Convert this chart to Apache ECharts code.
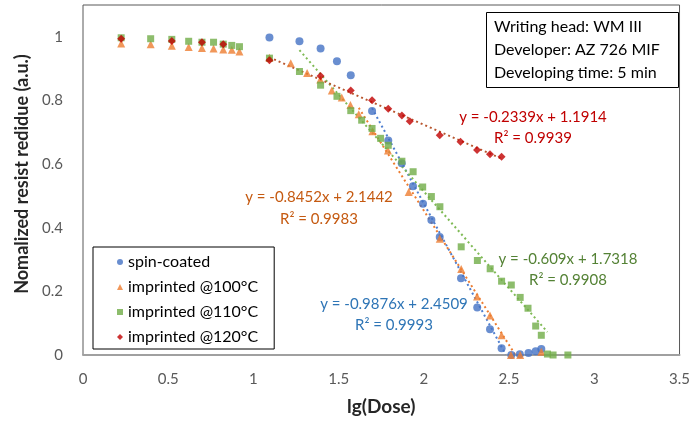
<!DOCTYPE html>
<html>
<head>
<meta charset="utf-8">
<script src="https://cdn.jsdelivr.net/npm/echarts@6/dist/echarts.min.js"></script>
<style>html,body{margin:0;padding:0;background:#fff;}#c{width:693px;height:423px;}</style>
</head>
<body>
<div id="c"></div>
<script>
// ---- data ----
const seriesNames = ['spin-coated', 'imprinted @100°C', 'imprinted @110°C', 'imprinted @120°C'];
const spinCoated = [[1.094,0.998],[1.27,0.986],[1.394,0.963],[1.49,0.923],[1.571,0.879],[1.696,0.767],[1.791,0.674],[1.870,0.603],[1.936,0.530],[1.995,0.475],[2.044,0.424],[2.093,0.371],[2.218,0.241],[2.313,0.149],[2.388,0.081],[2.456,0.021],[2.513,0.0],[2.563,0.002],[2.614,0.006],[2.656,0.012],[2.689,0.019]];
const imprinted100 = [[0.224,0.979],[0.397,0.977],[0.521,0.972],[0.620,0.968],[0.698,0.965],[0.766,0.963],[0.823,0.960],[0.873,0.959],[0.918,0.954],[1.094,0.934],[1.219,0.917],[1.315,0.886],[1.392,0.866],[1.460,0.831],[1.518,0.809],[1.569,0.786],[1.618,0.757],[1.698,0.703],[1.789,0.643],[1.911,0.512],[2.093,0.365],[2.219,0.270],[2.312,0.184],[2.388,0.124],[2.456,0.062],[2.511,0.0],[2.565,0.0],[2.689,0.01]];
const imprinted110 = [[0.224,0.997],[0.397,0.994],[0.521,0.992],[0.620,0.986],[0.698,0.983],[0.766,0.983],[0.823,0.977],[0.873,0.973],[0.918,0.969],[1.094,0.933],[1.270,0.891],[1.394,0.848],[1.490,0.813],[1.571,0.768],[1.635,0.738],[1.696,0.712],[1.746,0.681],[1.791,0.659],[1.871,0.609],[1.937,0.576],[1.993,0.528],[2.044,0.498],[2.094,0.466],[2.219,0.340],[2.314,0.297],[2.389,0.271],[2.456,0.232],[2.513,0.220],[2.565,0.181],[2.611,0.147],[2.656,0.091],[2.689,0.062],[2.725,0.003],[2.758,0.0],[2.845,0.0]];
const imprinted120 = [[0.224,0.994],[0.521,0.987],[0.698,0.983],[0.823,0.977],[1.094,0.926],[1.394,0.877],[1.571,0.831],[1.696,0.801],[1.791,0.774],[1.871,0.753],[1.917,0.735],[2.093,0.691],[2.215,0.670],[2.312,0.644],[2.388,0.631],[2.456,0.623]];
// linear fits (slope, intercept) and their x ranges
const fitSlopes = [-0.9876, -0.8452, -0.609, -0.2339];
const fitIntercepts = [2.4509, 2.1442, 1.7318, 1.1914];
const fitStartX = [1.696, 1.618, 1.27, 1.094];
const fitEndX = [2.48, 2.537, 2.725, 2.46];
const fitEquations = ['y = -0.9876x + 2.4509', 'y = -0.8452x + 2.1442', 'y = -0.609x + 1.7318', 'y = -0.2339x + 1.1914'];
const fitR2 = ['R² = 0.9993', 'R² = 0.9983', 'R² = 0.9908', 'R² = 0.9939'];
const xTicks = [0, 0.5, 1, 1.5, 2, 2.5, 3, 3.5];
const yTicks = [0, 0.2, 0.4, 0.6, 0.8, 1];
const infoLines = ['Writing head: WM III', 'Developer: AZ 726 MIF', 'Developing time: 5 min'];

// ---- styling ----
const FONT = 'Lato';
const markerColors = ['#4472C4', '#ED7D31', '#70AD47', '#C00000'];
const trendColors = ['#4f7fd0', '#ED7D31', '#7fba55', '#b8562e'];
const labelColors = ['#2E75B6', '#C55A11', '#548235', '#C00000'];
const symbols = ['circle', 'triangle', 'rect', 'diamond'];
const symbolSizes = [8, 8, 7, 8];
const allData = [spinCoated, imprinted100, imprinted110, imprinted120];
// label centre positions in pixels [x, yLine1, yLine2]
const labelPos = [[394, 304, 325], [319, 197, 219], [568, 259, 280], [533, 117, 138]];

const series = [];
allData.forEach((d, i) => {
  series.push({
    name: seriesNames[i], type: 'scatter', data: d, symbol: symbols[i],
    symbolSize: symbolSizes[i], itemStyle: { color: markerColors[i] }, z: 3
  });
});
fitSlopes.forEach((m, i) => {
  const b = fitIntercepts[i];
  series.push({
    name: 'fit' + i, type: 'line', showSymbol: false, silent: true, z: 2,
    data: [[fitStartX[i], m * fitStartX[i] + b], [fitEndX[i], m * fitEndX[i] + b]],
    lineStyle: { color: trendColors[i], width: 2, type: [2, 3] }
  });
});

const graphics = [];
fitEquations.forEach((eq, i) => {
  const p = labelPos[i];
  graphics.push({ type: 'text', x: p[0], y: p[1], z: 10,
    style: { text: eq, fill: labelColors[i], font: '15px ' + FONT, textAlign: 'center', textVerticalAlign: 'middle',
      backgroundColor: '#fff' } });
  graphics.push({ type: 'text', x: p[0], y: p[2], z: 10,
    style: { text: fitR2[i], fill: labelColors[i], font: '15px ' + FONT, textAlign: 'center', textVerticalAlign: 'middle',
      backgroundColor: '#fff' } });
});
graphics.push({ type: 'rect', shape: { x: 486.5, y: 12.5, width: 192, height: 75 }, z: 10,
  style: { fill: '#fff', stroke: '#000', lineWidth: 1 } });
infoLines.forEach((t, i) => {
  graphics.push({ type: 'text', x: 494, y: 27 + i * 23, z: 11,
    style: { text: t, fill: '#000', font: '16px ' + FONT, textAlign: 'left', textVerticalAlign: 'middle' } });
});

const chart = echarts.init(document.getElementById('c'), null, { renderer: 'canvas' });
chart.setOption({
  animation: false,
  backgroundColor: '#fff',
  textStyle: { fontFamily: FONT },
  grid: { left: 83, right: 10, top: 5, bottom: 68, show: true, borderColor: '#595959', borderWidth: 1, containLabel: false },
  xAxis: {
    type: 'value', min: xTicks[0], max: xTicks[xTicks.length - 1], interval: 0.5,
    name: 'lg(Dose)', nameLocation: 'middle', nameGap: 42,
    nameTextStyle: { fontFamily: FONT, fontSize: 19, fontWeight: 'bold', color: '#262626' },
    axisLine: { show: true, onZero: false, lineStyle: { color: '#a0a0a0', width: 2 } },
    axisTick: { show: false }, splitLine: { show: false },
    axisLabel: { fontFamily: FONT, fontSize: 15, color: '#595959', margin: 17,
      formatter: v => xTicks.includes(v) ? String(v) : '' }
  },
  yAxis: {
    type: 'value', min: 0, max: 1.1, interval: 0.2,
    name: 'Nomalized resist redidue (a.u.)', nameLocation: 'middle', nameGap: 50,
    nameTextStyle: { fontFamily: FONT, fontSize: 18, fontWeight: 'bold', color: '#262626', padding: [0, 0, 0, 12] },
    axisLine: { show: false }, axisTick: { show: false }, splitLine: { show: false },
    axisLabel: { fontFamily: FONT, fontSize: 15, color: '#595959', margin: 20, showMaxLabel: false,
      formatter: v => yTicks.some(t => Math.abs(t - v) < 1e-9) ? String(+v.toFixed(1)) : '' }
  },
  legend: {
    data: seriesNames.map((n, i) => ({ name: n, icon: symbols[i] })),
    orient: 'vertical', left: 93, top: 247, itemWidth: 6, itemHeight: 6, itemGap: 9, itemTextGap: 6,
    padding: [7, 16, 4, 24], borderColor: '#000', borderWidth: 1, backgroundColor: '#fff',
    textStyle: { fontFamily: FONT, fontSize: 16, color: '#000' }
  },
  series: series,
  graphic: graphics
});
</script>
</body>
</html>
